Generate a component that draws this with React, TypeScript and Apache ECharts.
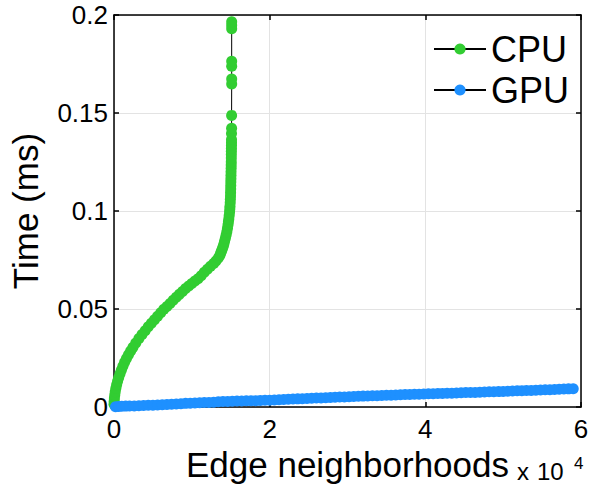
import React, { useEffect, useRef } from "react";
import * as echarts from "echarts";

const seriesNames = ["CPU", "GPU"];
const xTickValues = [0, 2, 4, 6];
const yTickValues = [0, 0.05, 0.1, 0.15, 0.2];

const cpuX = [
  0, 0.002, 0.005, 0.01, 0.016, 0.024, 0.034, 0.046, 0.06, 0.076, 0.094, 0.114, 0.136, 0.16,
  0.186, 0.214, 0.244, 0.28, 0.32, 0.36, 0.4, 0.44, 0.48, 0.52, 0.56, 0.6, 0.64, 0.68, 0.72,
  0.76, 0.8, 0.84, 0.88, 0.92, 0.96, 1.0, 1.04, 1.08, 1.12, 1.16, 1.2, 1.24, 1.28, 1.31, 1.34,
  1.36, 1.37, 1.38, 1.39, 1.4, 1.41, 1.42, 1.43, 1.44, 1.45, 1.458, 1.465, 1.47, 1.475, 1.48,
  1.485, 1.488, 1.49, 1.493, 1.495, 1.497, 1.498, 1.499, 1.5, 1.501, 1.502, 1.503, 1.504, 1.505,
  1.506, 1.5065, 1.507, 1.5075, 1.508, 1.5085, 1.509, 1.5095, 1.51, 1.51, 1.511, 1.511, 1.512,
  1.512, 1.512, 1.512, 1.512, 1.512, 1.512,
];
const cpuY = [
  0.0015, 0.003, 0.0045, 0.0062, 0.0078, 0.0096, 0.0114, 0.0132, 0.015, 0.0169, 0.0188, 0.0208,
  0.0229, 0.0248, 0.0267, 0.0286, 0.0305, 0.0327, 0.035, 0.037, 0.039, 0.041, 0.0428, 0.0446,
  0.0463, 0.0481, 0.0499, 0.0513, 0.0528, 0.0545, 0.056, 0.0575, 0.059, 0.0605, 0.0618, 0.063,
  0.0643, 0.0655, 0.067, 0.0688, 0.0703, 0.0718, 0.0733, 0.0745, 0.076, 0.0773, 0.0785, 0.0795,
  0.0805, 0.0817, 0.083, 0.0845, 0.086, 0.0877, 0.0895, 0.0912, 0.093, 0.0945, 0.096, 0.0977,
  0.0995, 0.101, 0.1025, 0.1042, 0.106, 0.1077, 0.1095, 0.1112, 0.113, 0.1148, 0.1165, 0.1183,
  0.12, 0.1218, 0.1235, 0.1252, 0.127, 0.1288, 0.1305, 0.132, 0.1335, 0.135, 0.1365, 0.1395,
  0.1422, 0.1488, 0.1648, 0.1673, 0.1739, 0.1764, 0.193, 0.1948, 0.1965,
];

const gpuX = [
  0.02, 0.06, 0.1, 0.15, 0.2, 0.26, 0.32, 0.38, 0.44, 0.5, 0.56, 0.62, 0.68, 0.74, 0.8, 0.86,
  0.92, 0.98, 1.04, 1.1, 1.16, 1.22, 1.28, 1.34, 1.4, 1.46, 1.52, 1.58, 1.64, 1.7, 1.76, 1.82,
  1.88, 1.94, 2.0, 2.06, 2.12, 2.18, 2.24, 2.3, 2.36, 2.42, 2.48, 2.54, 2.6, 2.66, 2.72, 2.78,
  2.84, 2.9, 2.96, 3.02, 3.08, 3.14, 3.2, 3.26, 3.32, 3.38, 3.44, 3.5, 3.56, 3.62, 3.68, 3.74,
  3.8, 3.86, 3.92, 3.98, 4.04, 4.1, 4.16, 4.22, 4.28, 4.34, 4.4, 4.46, 4.52, 4.58, 4.64, 4.7,
  4.76, 4.82, 4.88, 4.94, 5.0, 5.06, 5.12, 5.18, 5.24, 5.3, 5.36, 5.42, 5.48, 5.54, 5.6, 5.66,
  5.72, 5.78, 5.84, 5.9,
];
const gpuY = [
  0.0002, 0.0003, 0.0004, 0.0005, 0.0006, 0.0006, 0.0007, 0.0008, 0.0009, 0.001, 0.0011, 0.0012,
  0.0013, 0.0014, 0.0016, 0.0017, 0.0019, 0.002, 0.0021, 0.0022, 0.0023, 0.0024, 0.0025, 0.0027,
  0.0028, 0.0029, 0.003, 0.0031, 0.0031, 0.0032, 0.0032, 0.0033, 0.0034, 0.0035, 0.0035, 0.0036,
  0.0038, 0.0039, 0.004, 0.0041, 0.0042, 0.0043, 0.0044, 0.0045, 0.0046, 0.0047, 0.0048, 0.0049,
  0.005, 0.0051, 0.0052, 0.0053, 0.0054, 0.0055, 0.0056, 0.0057, 0.0058, 0.0058, 0.0059, 0.006,
  0.0061, 0.0062, 0.0063, 0.0064, 0.0064, 0.0065, 0.0066, 0.0067, 0.0068, 0.0068, 0.0069, 0.007,
  0.0071, 0.0071, 0.0072, 0.0073, 0.0074, 0.0074, 0.0075, 0.0076, 0.0077, 0.0078, 0.0078, 0.0079,
  0.008, 0.0081, 0.0082, 0.0083, 0.0084, 0.0085, 0.0085, 0.0086, 0.0087, 0.0088, 0.0089, 0.009,
  0.0091, 0.0092, 0.0093, 0.0094,
];

const FONT = "'Liberation Sans', Arial, Helvetica, sans-serif";

export default function App() {
  const ref = useRef<HTMLDivElement>(null);
  useEffect(() => {
    if (!ref.current) return;
    const chart = echarts.init(ref.current, null, { renderer: "svg" });
    const cpuData = cpuX.map((x, i) => [x, cpuY[i]]);
    const gpuData = gpuX.map((x, i) => [x, gpuY[i]]);
    const xMin = xTickValues[0];
    const xMax = xTickValues[xTickValues.length - 1];
    const yMin = yTickValues[0];
    const yMax = yTickValues[yTickValues.length - 1];
    const axisLine = { show: true, onZero: false, lineStyle: { color: "#000", width: 1.5 } };
    const axisTick = { show: true, inside: true, length: 5, lineStyle: { color: "#000", width: 1.5 } };
    chart.setOption({
      animation: false,
      backgroundColor: "#fff",
      grid: { left: 114, top: 15, right: 11, bottom: 74, containLabel: false },
      xAxis: [
        {
          type: "value",
          min: xMin,
          max: xMax,
          interval: 2,
          position: "bottom",
          name: "Edge neighborhoods",
          nameLocation: "middle",
          nameGap: 36,
          nameTextStyle: { fontFamily: FONT, fontSize: 35, color: "#000" },
          axisLine,
          axisTick,
          axisLabel: { fontFamily: FONT, fontSize: 26, color: "#000", margin: 9 },
          splitLine: { show: true, lineStyle: { color: "#e3e3e3", width: 1 } },
        },
        {
          type: "value",
          min: xMin,
          max: xMax,
          interval: 2,
          position: "top",
          axisLine,
          axisTick,
          axisLabel: { show: false },
          splitLine: { show: false },
        },
      ],
      yAxis: [
        {
          type: "value",
          min: yMin,
          max: yMax,
          interval: 0.05,
          position: "left",
          name: "Time (ms)",
          nameLocation: "middle",
          nameGap: 71,
          nameTextStyle: { fontFamily: FONT, fontSize: 35, color: "#000" },
          axisLine,
          axisTick,
          axisLabel: { fontFamily: FONT, fontSize: 26, color: "#000", margin: 6 },
          splitLine: { show: true, lineStyle: { color: "#e3e3e3", width: 1 } },
        },
        {
          type: "value",
          min: yMin,
          max: yMax,
          interval: 0.05,
          position: "right",
          axisLine,
          axisTick,
          axisLabel: { show: false },
          splitLine: { show: false },
        },
      ],
      legend: {
        data: seriesNames,
        orient: "vertical",
        left: 433,
        top: 31,
        padding: 0,
        itemWidth: 52,
        itemHeight: 14,
        itemGap: 5,
        textStyle: { fontFamily: FONT, fontSize: 36, color: "#000" },
      },
      series: [
        {
          name: seriesNames[0],
          type: "line",
          data: cpuData,
          symbol: "circle",
          symbolSize: 11,
          showAllSymbol: true,
          itemStyle: { color: "#32cd32", borderWidth: 0 },
          lineStyle: { color: "#000", width: 1 },
          z: 2,
        },
        {
          name: seriesNames[1],
          type: "line",
          data: gpuData,
          symbol: "circle",
          symbolSize: 11,
          showAllSymbol: true,
          itemStyle: { color: "#1e90ff", borderWidth: 0 },
          lineStyle: { color: "#000", width: 1 },
          z: 3,
        },
      ],
      graphic: [
        {
          type: "text",
          left: 517,
          top: 459,
          style: { text: "x", fontFamily: FONT, fontSize: 24, fill: "#000" },
        },
        {
          type: "text",
          left: 537,
          top: 459,
          style: { text: "10", fontFamily: FONT, fontSize: 24, fill: "#000" },
        },
        {
          type: "text",
          left: 574,
          top: 455,
          style: { text: "4", fontFamily: FONT, fontSize: 17, fill: "#000" },
        },
      ],
    });
    return () => chart.dispose();
  }, []);
  return (
    <div
      ref={ref}
      style={{ position: "fixed", left: 0, top: 0, width: 592, height: 487, background: "#fff" }}
    />
  );
}
